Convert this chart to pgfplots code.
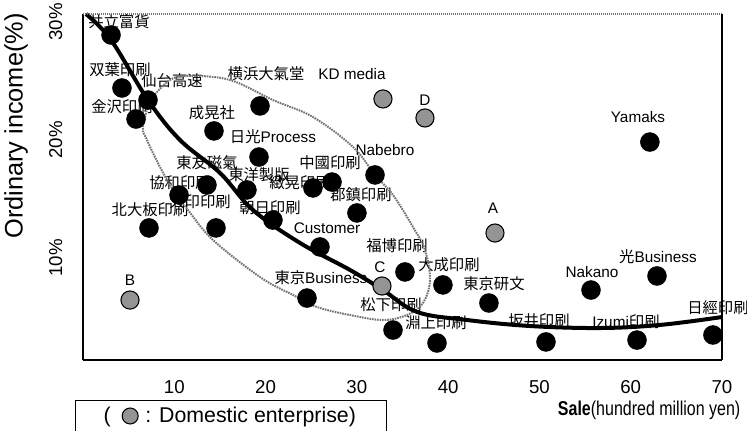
\documentclass[border=0pt]{standalone}
\usepackage{fontspec}
\setmainfont{Liberation Sans}
\newfontfamily\cjk{Noto Sans CJK JP}
\newfontfamily\narrow[FakeStretch=0.8]{Liberation Sans}
\usepackage{pgfplots}
\usepackage{pgfplotstable}
\pgfplotsset{compat=1.18}

\newcommand{\jp}[1]{{\cjk #1}}
\newcommand{\lb}{\fontsize{11.5}{13}\selectfont}

% companies (black) and domestic enterprises (grey)
\pgfplotstableread{
x y
3.07 28.90
4.27 24.41
7.12 23.39
5.81 21.78
14.35 20.77
19.39 22.89
19.28 18.56
13.58 16.19
10.52 15.34
7.23 12.55
14.57 12.55
17.96 15.77
20.81 13.22
25.19 15.94
27.28 16.44
31.99 17.04
30.01 13.82
25.96 10.94
35.27 8.82
39.43 7.72
44.47 6.19
24.54 6.61
33.96 3.90
38.78 2.80
50.72 2.89
60.69 3.05
69.01 3.48
55.65 7.29
62.88 8.48
62.10 19.83
}\firms

\pgfplotstableread{
x y
45.13 12.12
5.15 6.44
32.75 7.63
37.46 21.87
32.86 23.48
}\domestic

\begin{document}
\begin{tikzpicture}
\begin{axis}[
    scale only axis,
    width=479.25pt, height=259.5pt,
    xmin=0, xmax=70, ymin=1.36, ymax=30.68,
    axis line style={draw=none},
    xtick={10,20,...,70},
    ytick={10,20,30},
    yticklabels={10\%,20\%,30\%},
    major tick length=0pt,
    tick label style={font=\fontsize{14}{16}\selectfont},
    yticklabel style={rotate=90, anchor=south},
    yticklabel shift=12pt,
    xticklabel shift=12pt,
    /pgf/number format/assume math mode=true,
    clip=false,
    legend style={at={(rel axis cs:-0.0125,-0.1156)}, anchor=north west,
        draw=black, line width=0.9pt, font=\fontsize{16}{18}\selectfont,
        inner xsep=21pt, inner ysep=3pt},
]

% labels
\node[font=\lb] at (axis cs:3.94,30.0) {\jp{共立富貨}};
\node[font=\lb] at (axis cs:4.05,25.94) {\jp{双葉印刷}};
\node[font=\lb] at (axis cs:9.75,25.0) {\jp{仙台高速}};
\node[font=\lb] at (axis cs:4.27,22.8) {\jp{金沢印刷}};
\node[font=\lb] at (axis cs:14.13,22.29) {\jp{成晃社}};
\node[font=\lb] at (axis cs:20.05,25.6) {\jp{横浜大氣堂}};
\node[font=\lb] at (axis cs:29.47,25.6) {KD media};
\node[font=\lb] at (axis cs:37.46,23.39) {D};
\node[font=\lb] at (axis cs:20.81,20.26) {\jp{日光}Process};
\node[font=\lb] at (axis cs:33.08,19.16) {Nabebro};
\node[font=\lb] at (axis cs:13.58,18.05) {\jp{東友磁氣}};
\node[font=\lb] at (axis cs:10.63,16.36) {\jp{協和印刷}};
\node[font=\lb] at (axis cs:19.28,17.04) {\jp{東洋製版}};
\node[font=\lb] at (axis cs:23.77,16.36) {\jp{緻晃印刷}};
\node[font=\lb] at (axis cs:27.06,18.05) {\jp{中國印刷}};
\node[font=\lb] at (axis cs:30.45,15.34) {\jp{郡鎮印刷}};
\node[font=\lb] at (axis cs:7.34,14.07) {\jp{北大板印刷}};
\node[font=\lb] at (axis cs:12.82,14.75) {\jp{大印印刷}};
\node[font=\lb] at (axis cs:20.48,14.24) {\jp{朝日印刷}};
\node[font=\lb] at (axis cs:26.73,12.55) {Customer};
\node[font=\lb] at (axis cs:34.4,11.02) {\jp{福博印刷}};
\node[font=\lb] at (axis cs:32.53,9.24) {C};
\node[font=\lb] at (axis cs:40.09,9.41) {\jp{大成印刷}};
\node[font=\lb] at (axis cs:45.02,7.8) {\jp{東京研文}};
\node[font=\lb] at (axis cs:44.91,14.24) {A};
\node[font=\lb] at (axis cs:26.07,8.31) {\jp{東京}Business};
\node[font=\lb] at (axis cs:33.74,6.02) {\jp{松下印刷}};
\node[font=\lb] at (axis cs:38.67,4.5) {\jp{淵上印刷}};
\node[font=\lb] at (axis cs:49.95,4.66) {\jp{坂井印刷}};
\node[font=\lb] at (axis cs:59.48,4.58) {Izumi\jp{印刷}};
\node[font=\lb] at (axis cs:69.56,5.77) {\jp{日經印刷}};
\node[font=\lb] at (axis cs:55.76,8.82) {Nakano};
\node[font=\lb] at (axis cs:62.99,10.09) {\jp{光}Business};
\node[font=\lb] at (axis cs:60.8,21.95) {Yamaks};
\node[font=\lb] at (axis cs:5.15,8.14) {B};

\addplot[only marks, mark=*, mark size=7.1pt,
    mark options={fill=black, draw=black}, forget plot] table {\firms};
\addplot[only marks, mark=*, mark size=6.8pt,
    mark options={fill=black!42, draw=black, line width=0.8pt}, forget plot] table {\domestic};

% grouping loop
\addplot[black!55, line width=1.5pt, dash pattern=on 1.2pt off 0.7pt,
    smooth, tension=0.6, forget plot] coordinates {
    (7.34,23.39) (9.53,25.09) (11.72,25.43) (16.1,25.09) (20.81,23.39)
    (25.19,21.95) (29.58,19.41) (31.99,17.04) (33.96,15.34) (36.15,12.63)
    (37.46,10.68) (38.01,8.14) (37.24,6.19) (35.49,5.17) (32.86,4.75)
    (29.25,5.17) (25.63,5.85) (23.0,6.87) (19.39,8.39) (14.24,11.53)
    (11.5,14.07) (9.86,15.77) (8.43,17.72) (7.01,20.0) (6.57,21.11)
    (7.34,23.39)
};

% trend curve
\addplot[black, line width=3pt, smooth, tension=0.6, forget plot] coordinates {
    (0.33,30.68) (3.07,28.48) (7.12,23.39) (10.63,20.0) (15.01,17.21)
    (18.62,14.07) (23.77,11.28) (29.25,8.99) (32.86,7.29) (36.59,5.43)
    (42.06,4.75) (48.97,4.24) (56.63,4.07) (63.21,4.33) (70.0,5.0)
};

% frame
\draw[black, line width=2.2pt] (rel axis cs:0,0) -- (rel axis cs:0,1);
\draw[black, line width=2.2pt] (rel axis cs:0,0) -- (rel axis cs:1,0);
\draw[black!55, line width=1.4pt, dash pattern=on 1pt off 0.5pt] (rel axis cs:0,1) -- (rel axis cs:1,1);
\draw[black, line width=1pt] (rel axis cs:1,0) -- (rel axis cs:1,1);

\addlegendimage{legend image code/.code={
    \node[font=\fontsize{16}{18}\selectfont, inner sep=0pt] at (0pt,0pt) {(};
    \draw[fill=black!42, line width=0.8pt] (17.25pt,0pt) circle (6pt);
}}
\addlegendentry{\hspace{3pt}: Domestic enterprise)}
\end{axis}

\node[rotate=90, font=\fontsize{19}{21}\selectfont] at (-50.25pt,175.5pt) {Ordinary income(\%)};
\node[anchor=east, font=\narrow\fontsize{15}{17}\selectfont] at (496.5pt,-37.5pt) {\textbf{Sale}(hundred million yen)};

\pgfresetboundingbox
\path (-62.25pt,-53.25pt) rectangle (498pt,270pt);
\end{tikzpicture}
\end{document}
